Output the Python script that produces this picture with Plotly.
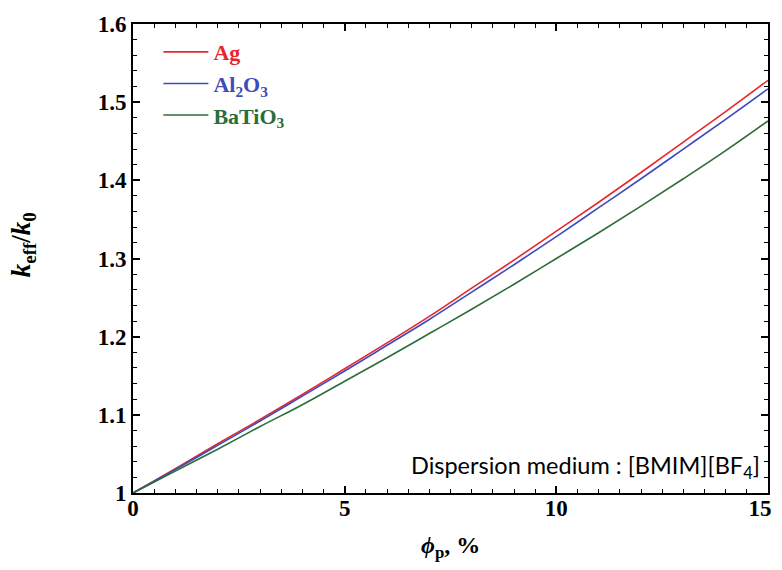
import plotly.graph_objects as go

phi = [0, 1, 2, 3, 4, 5, 6, 7, 8, 9, 10, 11, 12, 13, 14, 15]
ag = [1.0, 1.031, 1.063, 1.094, 1.126, 1.159, 1.192, 1.226, 1.262, 1.298, 1.335, 1.372, 1.410, 1.449, 1.488, 1.528]
al2o3 = [1.0, 1.030, 1.061, 1.092, 1.124, 1.156, 1.189, 1.222, 1.257, 1.292, 1.328, 1.365, 1.402, 1.440, 1.478, 1.517]
batio3 = [1.0, 1.028, 1.056, 1.085, 1.113, 1.143, 1.173, 1.204, 1.235, 1.267, 1.300, 1.333, 1.367, 1.402, 1.438, 1.476]

x_tickvals = [0, 5, 10, 15]
x_ticktext = ["0", "5", "10", "15\u2002\u2009"]

names = ["Ag", "Al<sub>2</sub>O<sub>3</sub>", "BaTiO<sub>3</sub>"]
colors = ["#e8262a", "#3c4bbd", "#2b6e3a"]
series = [ag, al2o3, batio3]

fig = go.Figure()
for nm, col, ys in zip(names, colors, series):
    fig.add_trace(go.Scatter(
        x=phi, y=ys, mode="lines", line=dict(color=col, width=1.6, shape="spline", smoothing=1.0),
        name=f'<span style="color:{col}">{nm}</span>'))

serif = "Liberation Serif"
axis_common = dict(
    showline=True, linecolor="black", linewidth=2, mirror="allticks",
    ticks="inside", ticklen=7, tickwidth=1.5, tickcolor="black",
    showgrid=False, zeroline=False, automargin=False, ticklabeloverflow="allow",
    tickfont=dict(family=serif, size=23, color="black", weight="bold"),
)

fig.update_xaxes(range=[0, 15], tickmode="array", tickvals=x_tickvals, ticktext=x_ticktext,
                 ticklabelstandoff=-7,
                 minor=dict(dtick=0.5, tick0=0, ticks="inside", ticklen=4, tickwidth=1.2, tickcolor="black"),
                 **axis_common)
fig.update_yaxes(range=[1, 1.6], tick0=1, dtick=0.1,
                 minor=dict(dtick=0.02, ticks="inside", ticklen=4, tickwidth=1.2, tickcolor="black"),
                 **axis_common)

# axis titles
fig.add_annotation(x=-0.172, y=0.53, xref="paper", yref="paper", xanchor="center", yanchor="middle",
                   textangle=-90, showarrow=False,
                   text="<i>k</i><sub>eff</sub>/<i>k</i><sub>0</sub>",
                   font=dict(family=serif, size=27, color="black", weight="bold"))
fig.add_annotation(x=0.5, y=-0.115, xref="paper", yref="paper", xanchor="center", yanchor="middle",
                   showarrow=False,
                   text="<i>ϕ</i><sub>p</sub>, %",
                   font=dict(family=serif, size=24, color="black", weight="bold"))

fig.add_annotation(x=0.99, y=0.016, xref="paper", yref="paper", xanchor="right", yanchor="bottom",
                   text="Dispersion medium : [BMIM][BF<sub>4</sub>]", showarrow=False,
                   font=dict(family="Lato", size=23.5, color="black"))

fig.update_layout(
    width=774, height=554,
    margin=dict(l=125, r=14, t=16, b=69),
    plot_bgcolor="white", paper_bgcolor="white",
    legend=dict(x=0.04, y=0.985, xanchor="left", yanchor="top", bgcolor="rgba(0,0,0,0)",
                font=dict(family=serif, size=22, weight="bold"), tracegroupgap=0, itemwidth=45),
)

fig.write_html("out.html")
